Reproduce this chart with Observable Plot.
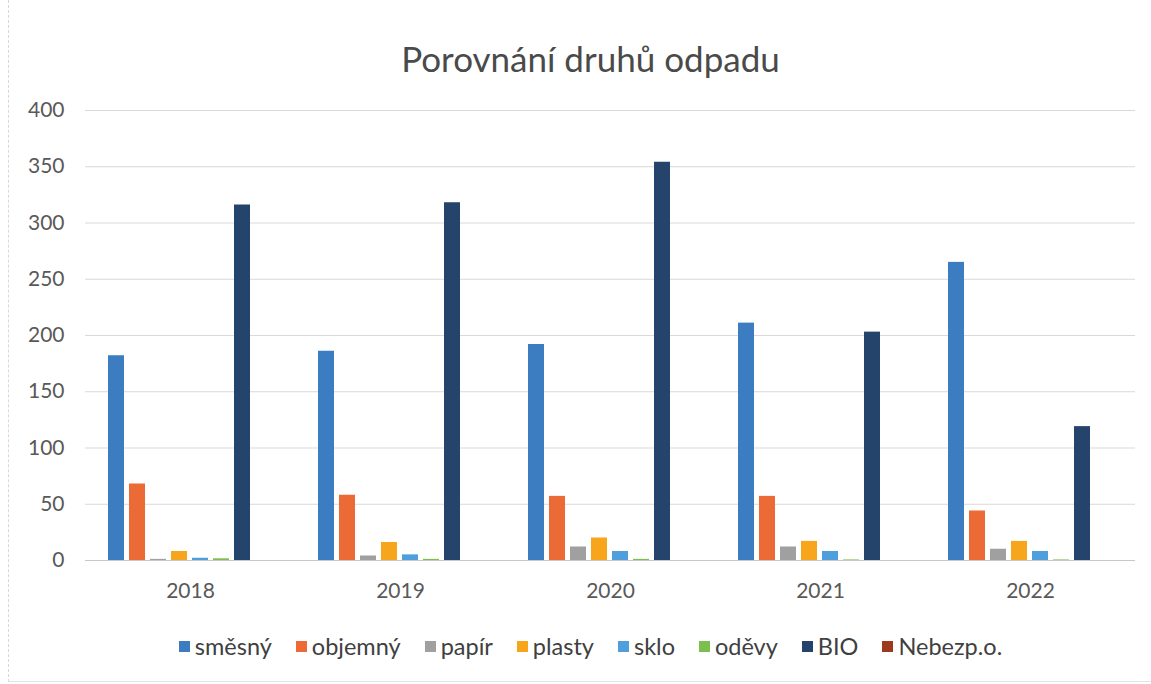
<!DOCTYPE html>
<html>
<head>
<meta charset="utf-8">
<script src="https://cdn.jsdelivr.net/npm/d3@7"></script>
<script src="https://cdn.jsdelivr.net/npm/@observablehq/plot@0.6"></script>
<style>
  html, body { margin: 0; padding: 0; background: #fff; }
  #wrap { position: relative; width: 1151px; height: 684px; overflow: hidden; font-family: Lato, "Open Sans", sans-serif; color: #595959; }
  #frame { position: absolute; left: 8px; top: 0; width: 1150px; height: 682px; border-left: 1px dashed #d8d8d8; border-bottom: 1px solid #e4e4e4; box-sizing: border-box; }
  #title { position: absolute; left: 0; width: 1181px; top: 37px; text-align: center; font-size: 35px; color: #4a4a4a; }
  #chart { position: absolute; left: 0; top: 95px; }
  #legend { position: absolute; left: 0; width: 1181px; top: 632px; display: flex; justify-content: center; font-size: 23.5px; color: #404040; }
  .item { display: flex; align-items: center; margin: 0 12px; }
  .sw { width: 11px; height: 11px; margin-right: 5px; }
</style>
</head>
<body>
<div id="wrap">
  <div id="frame"></div>
  <div id="title">Porovnání druhů odpadu</div>
  <div id="chart"></div>
  <div id="legend"></div>
</div>
<script>
const years = ["2018", "2019", "2020", "2021", "2022"];
const types = ["směsný", "objemný", "papír", "plasty", "sklo", "oděvy", "BIO", "Nebezp.o."];
const colors = ["#3b7dc0", "#ec6a35", "#a0a0a0", "#f7a51c", "#4f9fdc", "#7dbf4f", "#24446c", "#9e3a1c"];
const smesny  = [182, 186, 192, 211, 265];
const objemny = [68, 58, 57, 57, 44];
const papir   = [1, 4, 12, 12, 10];
const plasty  = [8, 16, 20, 17, 17];
const sklo    = [2, 5, 8, 8, 8];
const odevy   = [1.5, 1, 1, 0.5, 0.5];
const bio     = [316, 318, 354, 203, 119];
const nebezp  = [0, 0, 0, 0, 0];
const yTicks  = [0, 50, 100, 150, 200, 250, 300, 350, 400];

const series = [smesny, objemny, papir, plasty, sklo, odevy, bio, nebezp];
const data = [];
years.forEach((y, i) => {
  types.forEach((t, j) => data.push({year: y, type: t, value: series[j][i]}));
});

const chart = Plot.plot({
  width: 1151,
  height: 525,
  marginLeft: 85,
  marginRight: 16,
  marginTop: 15,
  marginBottom: 60,
  style: {fontSize: "21px", fontFamily: "Lato, 'Open Sans', sans-serif", color: "#595959", background: "transparent", overflow: "visible"},
  fx: {domain: years, padding: 0, label: null, axis: "bottom", tickSize: 0, tickPadding: 23},
  x: {domain: types, paddingInner: 0.23, paddingOuter: 0.9, axis: null},
  y: {domain: [0, 400], ticks: yTicks, tickSize: 0, tickPadding: 21, label: null, grid: false},
  color: {domain: types, range: colors},
  marks: [
    Plot.ruleY(yTicks.slice(1), {stroke: "#d9d9d9", strokeWidth: 1}),
    Plot.barY(data, {fx: "year", x: "type", y: "value", fill: "type"}),
    Plot.ruleY([0], {stroke: "#c8c8c8", strokeWidth: 1})
  ]
});
document.getElementById("chart").appendChild(chart);

const legend = document.getElementById("legend");
types.forEach((t, i) => {
  const it = document.createElement("div");
  it.className = "item";
  const sw = document.createElement("span");
  sw.className = "sw";
  sw.style.background = colors[i];
  const tx = document.createElement("span");
  tx.textContent = t;
  it.appendChild(sw);
  it.appendChild(tx);
  legend.appendChild(it);
});
</script>
</body>
</html>
